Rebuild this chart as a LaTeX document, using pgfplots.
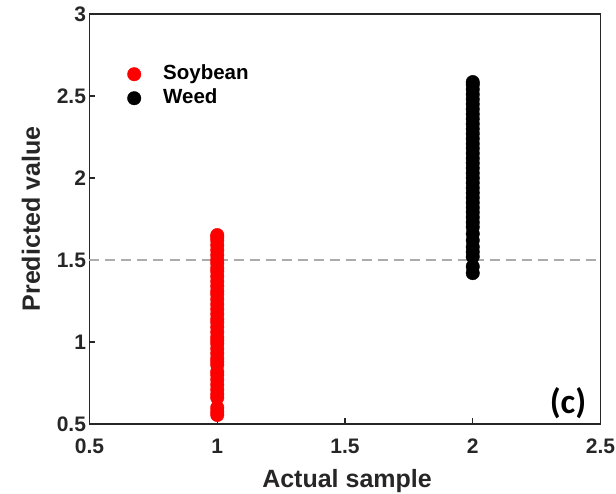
\documentclass[border=0pt]{standalone}
\usepackage{fontspec}
\setmainfont{Liberation Sans}
\newfontfamily\carlito{Carlito}
\usepackage{pgfplots}
\pgfplotsset{compat=1.18}
\definecolor{axisgray}{gray}{0.15}
\begin{document}
\begin{tikzpicture}
\useasboundingbox (-89.5pt,-70pt) rectangle (526.5pt,424pt);
\begin{axis}[
  at={(0pt,0pt)}, anchor=south west,
  scale only axis,
  width=511pt, height=410pt,
  xmin=0.5, xmax=2.5, ymin=0.5, ymax=3,
  xtick={0.5,1,1.5,2,2.5}, ytick={0.5,1,1.5,2,2.5,3},
  xticklabels={0.5,1,1.5,2,2.5},
  yticklabels={0.5,1,1.5,2,2.5,3},
  tick align=inside, tick pos=left,
  major tick length=6pt,
  axis line style={axisgray, line width=1.6pt},
  every tick/.style={axisgray, line width=1.2pt},
  tick label style={font=\fontsize{21}{21}\selectfont\bfseries, text=axisgray},
  xticklabel style={anchor=base, yshift=-30pt},
  xlabel={Actual sample}, ylabel={Predicted value},
  label style={font=\fontsize{25}{25}\selectfont\bfseries, text=axisgray},
  xlabel style={at={(axis description cs:0.504,-0.156)}, anchor=base},
  ylabel style={at={(axis description cs:-0.0969,0.5)}, anchor=base},
  clip=false,
  legend style={draw=none, fill=none, inner sep=0pt, at={(axis cs:0.6155,2.698)}, anchor=north west,
    font=\fontsize{20.5}{20.5}\selectfont\bfseries, row sep=3pt,
    nodes={inner xsep=7pt, inner ysep=1pt, text height=15pt, text depth=4pt}},
  legend image code/.code={\path[draw=none, fill=none] (0pt,-5pt) rectangle (37pt,5pt); \draw[#1] plot coordinates {(15pt,0pt)};},
  legend cell align=left,
]
\addplot [gray!65, dashed, dash pattern=on 10pt off 6pt, line width=1.2pt, forget plot] coordinates {(0.5,1.5) (2.5,1.5)};
\addplot [only marks, mark=*, mark size=6.75pt, red, mark options={fill=red, draw=red}] coordinates {
(1,0.555) (1,0.575) (1,0.60) (1,0.66) (1,0.68) (1,0.71) (1,0.74) (1,0.77) (1,0.80) (1,0.82)
(1,0.86) (1,0.88) (1,0.90) (1,0.93) (1,0.96) (1,0.99) (1,1.01) (1,1.03) (1,1.06) (1,1.09)
(1,1.12) (1,1.14) (1,1.17) (1,1.20) (1,1.23) (1,1.26) (1,1.29) (1,1.31) (1,1.34) (1,1.37)
(1,1.40) (1,1.43) (1,1.45) (1,1.48) (1,1.50) (1,1.53) (1,1.56) (1,1.59) (1,1.62) (1,1.64) (1,1.652)
};
\addlegendentry{Soybean}
\addplot [only marks, mark=*, mark size=6.75pt, black, mark options={fill=black, draw=black}] coordinates {
(2,1.42) (2,1.46) (2,1.52) (2,1.55) (2,1.58) (2,1.62) (2,1.66) (2,1.70) (2,1.73) (2,1.76)
(2,1.79) (2,1.82) (2,1.85) (2,1.88) (2,1.91) (2,1.94) (2,1.97) (2,2.00) (2,2.03) (2,2.06)
(2,2.09) (2,2.12) (2,2.15) (2,2.18) (2,2.21) (2,2.24) (2,2.27) (2,2.30) (2,2.33) (2,2.36)
(2,2.39) (2,2.42) (2,2.45) (2,2.48) (2,2.51) (2,2.54) (2,2.57) (2,2.585)
};
\addlegendentry{Weed}
\node[font=\carlito\fontsize{35}{35}\selectfont\bfseries] at (axis cs:2.373,0.625) {(c)};
\end{axis}
\end{tikzpicture}
\end{document}
